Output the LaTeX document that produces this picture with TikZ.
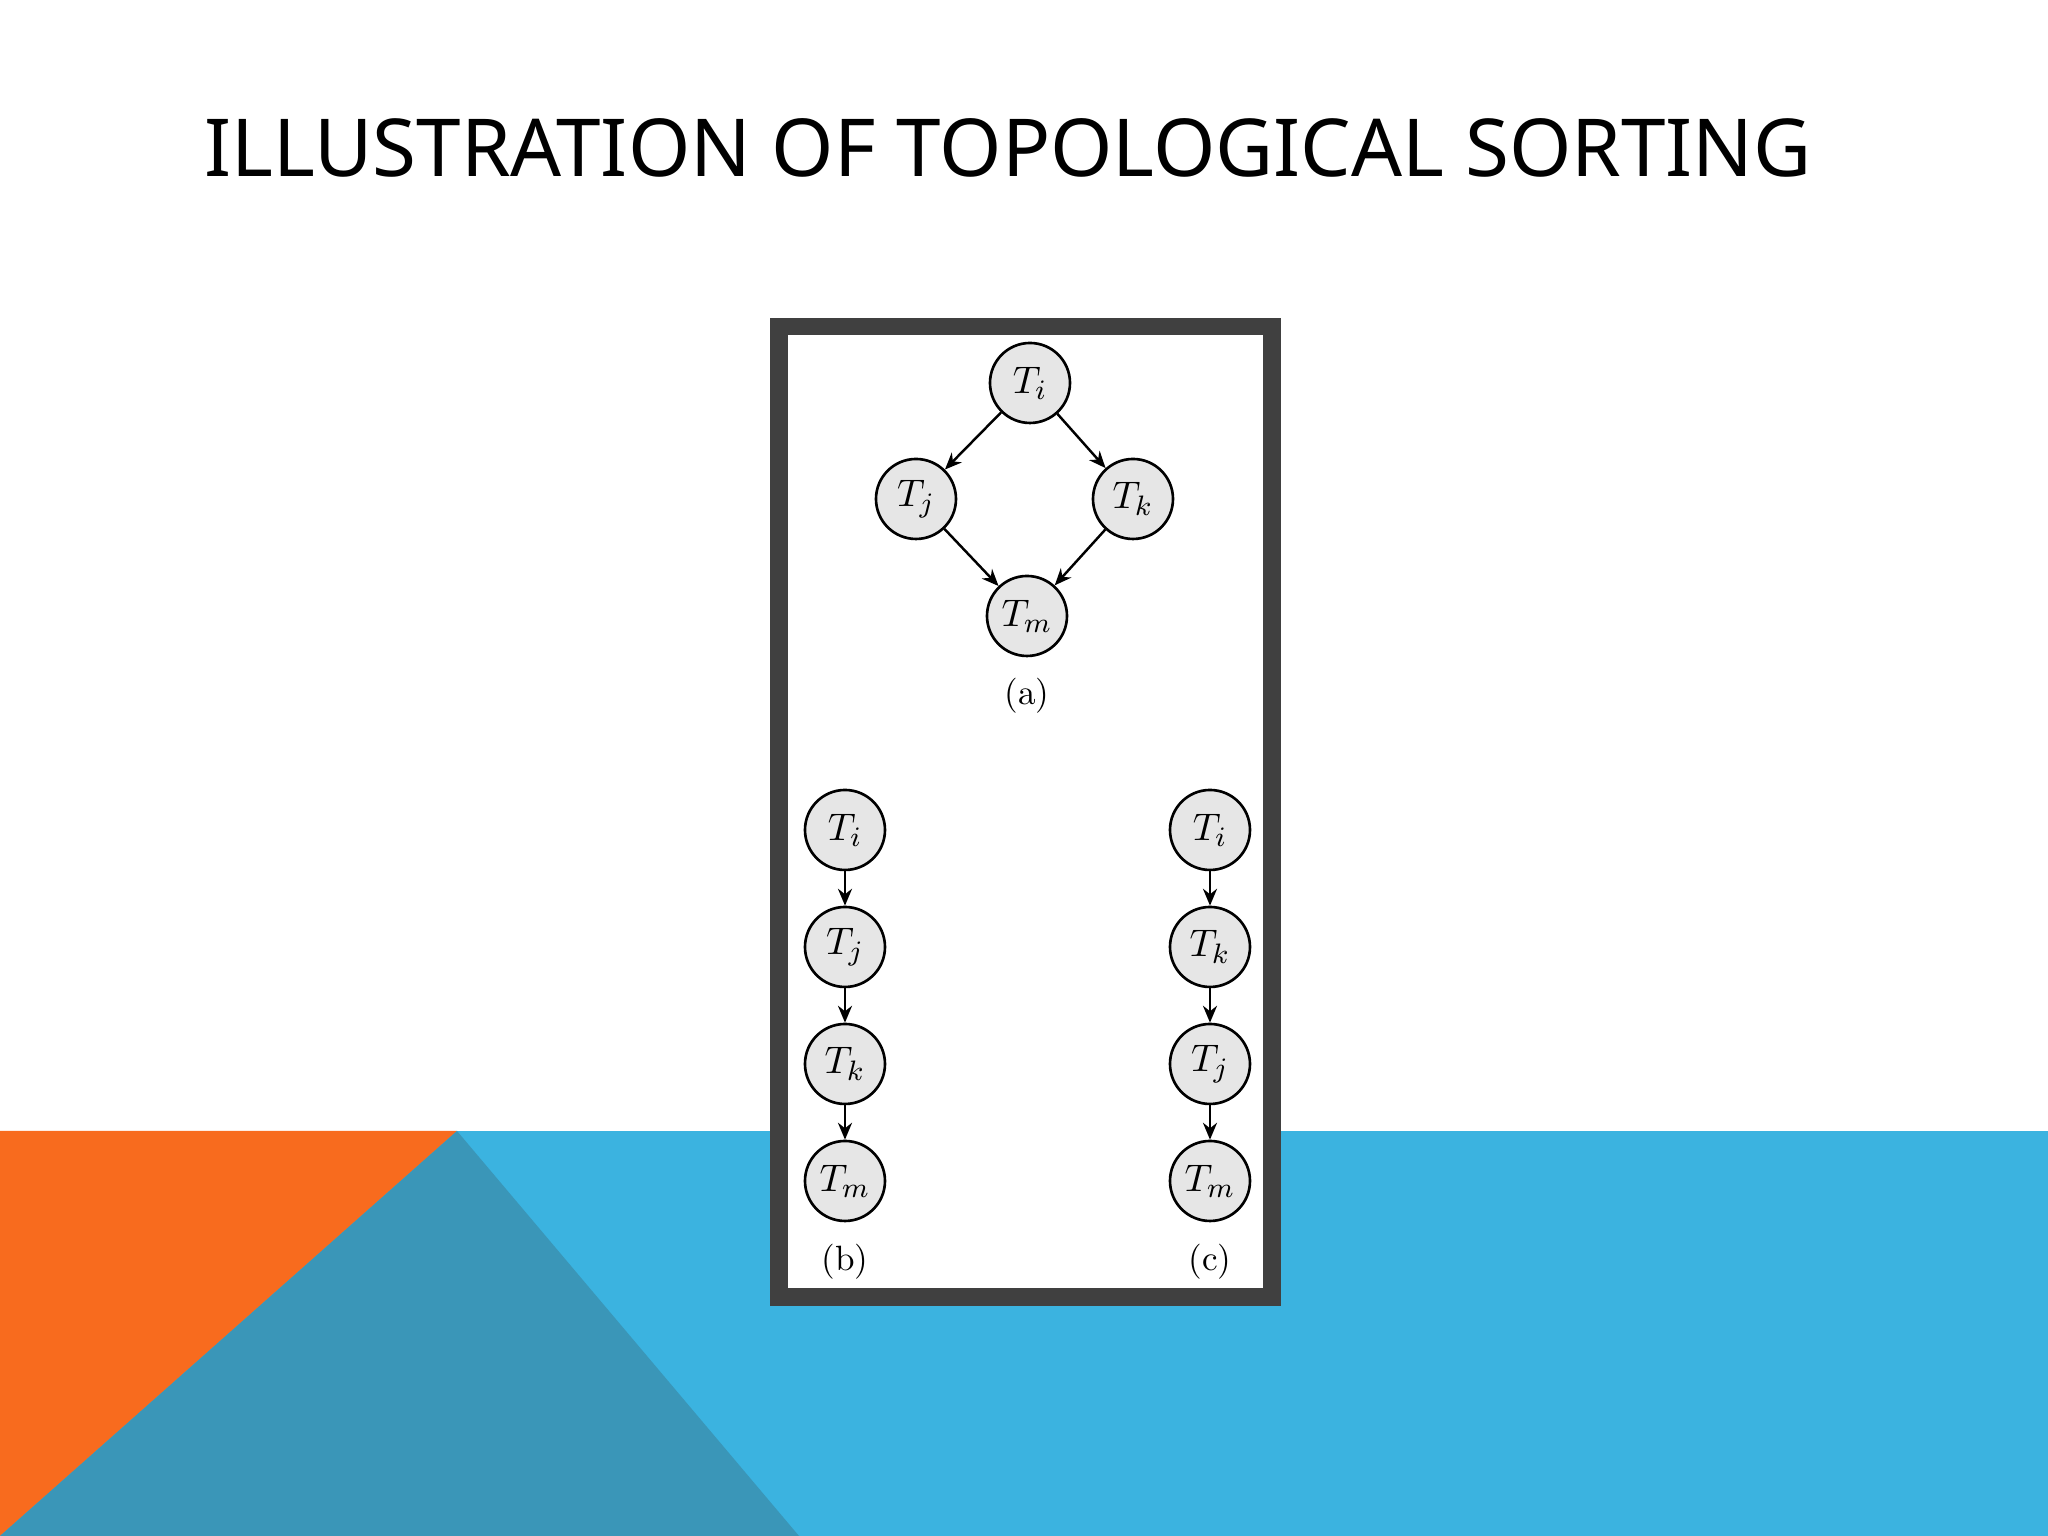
\documentclass[tikz,border=0pt]{standalone}
\usepackage{fontspec}
\newfontfamily\titlefont{Noto Sans}
\usetikzlibrary{positioning,arrows.meta}
\definecolor{slideorange}{HTML}{F86B1E}
\definecolor{slideblue}{HTML}{3BB3E0}
\definecolor{slideteal}{HTML}{3A96B8}
\definecolor{framegray}{HTML}{404040}
\definecolor{txnfill}{HTML}{E6E6E6}

\begin{document}
\begin{tikzpicture}
  [->, >={Stealth[length=4.8pt,width=4pt]}, auto, node distance=1.17cm,
    txn/.style={%
      circle, draw, fill=txnfill, line width=0.75pt,
      minimum size=0.8cm, inner sep=0pt, font=\fontsize{11}{13}\selectfont
    },
    caption/.style={%
      font=\fontsize{10}{12}\selectfont
    },
    link/.style={line width=0.7pt},
  ]
  \useasboundingbox (0,0) rectangle (20.48,15.36);

  % slide background
  \fill[slideblue] (0,0) rectangle (20.48,4.05);
  \fill[slideorange] (0,4.05) -- (4.57,4.05) -- (0,0) -- cycle;
  \fill[slideteal] (4.57,4.05) -- (7.99,0) -- (0,0) -- cycle;

  \node[font=\titlefont\fontsize{22.75}{27}\selectfont] (title) at (10.08,13.88)
    {ILLUSTRATION OF TOPOLOGICAL SORTING};

  \draw[-, framegray, fill=white, line width=0.175cm] (7.79,2.39) rectangle (12.72,12.095);

  % (a) precedence graph
  \node[txn] (ai) at (10.30,11.53) {$T_i$};
  \node[txn] (aj) at (9.16,10.37) {$T_j$};
  \node[txn] (ak) at (11.33,10.37) {$T_k$};
  \node[txn] (am) at (10.27,9.20) {$T_m$};
  \node[caption] (la) at (10.27,8.40) {(a)};

  % (b) first order
  \node[txn] (bi) at (8.45,7.06) {$T_i$};
  \node[txn] (bj) [below of=bi] {$T_j$};
  \node[txn] (bk) [below of=bj] {$T_k$};
  \node[txn] (bm) [below of=bk] {$T_m$};
  \node[caption] (lb) at (8.45,2.74) {(b)};

  % (c) second order
  \node[txn] (ci) at (12.10,7.06) {$T_i$};
  \node[txn] (ck) [below of=ci] {$T_k$};
  \node[txn] (cj) [below of=ck] {$T_j$};
  \node[txn] (cm) [below of=cj] {$T_m$};
  \node[caption] (lc) at (12.10,2.74) {(c)};

  \path[link]
  (ai) edge (aj)
       edge (ak)
  (aj) edge (am)
  (ak) edge (am);

  \path[link]
  (bi) edge (bj)
  (bj) edge (bk)
  (bk) edge (bm)
  (ci) edge (ck)
  (ck) edge (cj)
  (cj) edge (cm);

\end{tikzpicture}
\end{document}
